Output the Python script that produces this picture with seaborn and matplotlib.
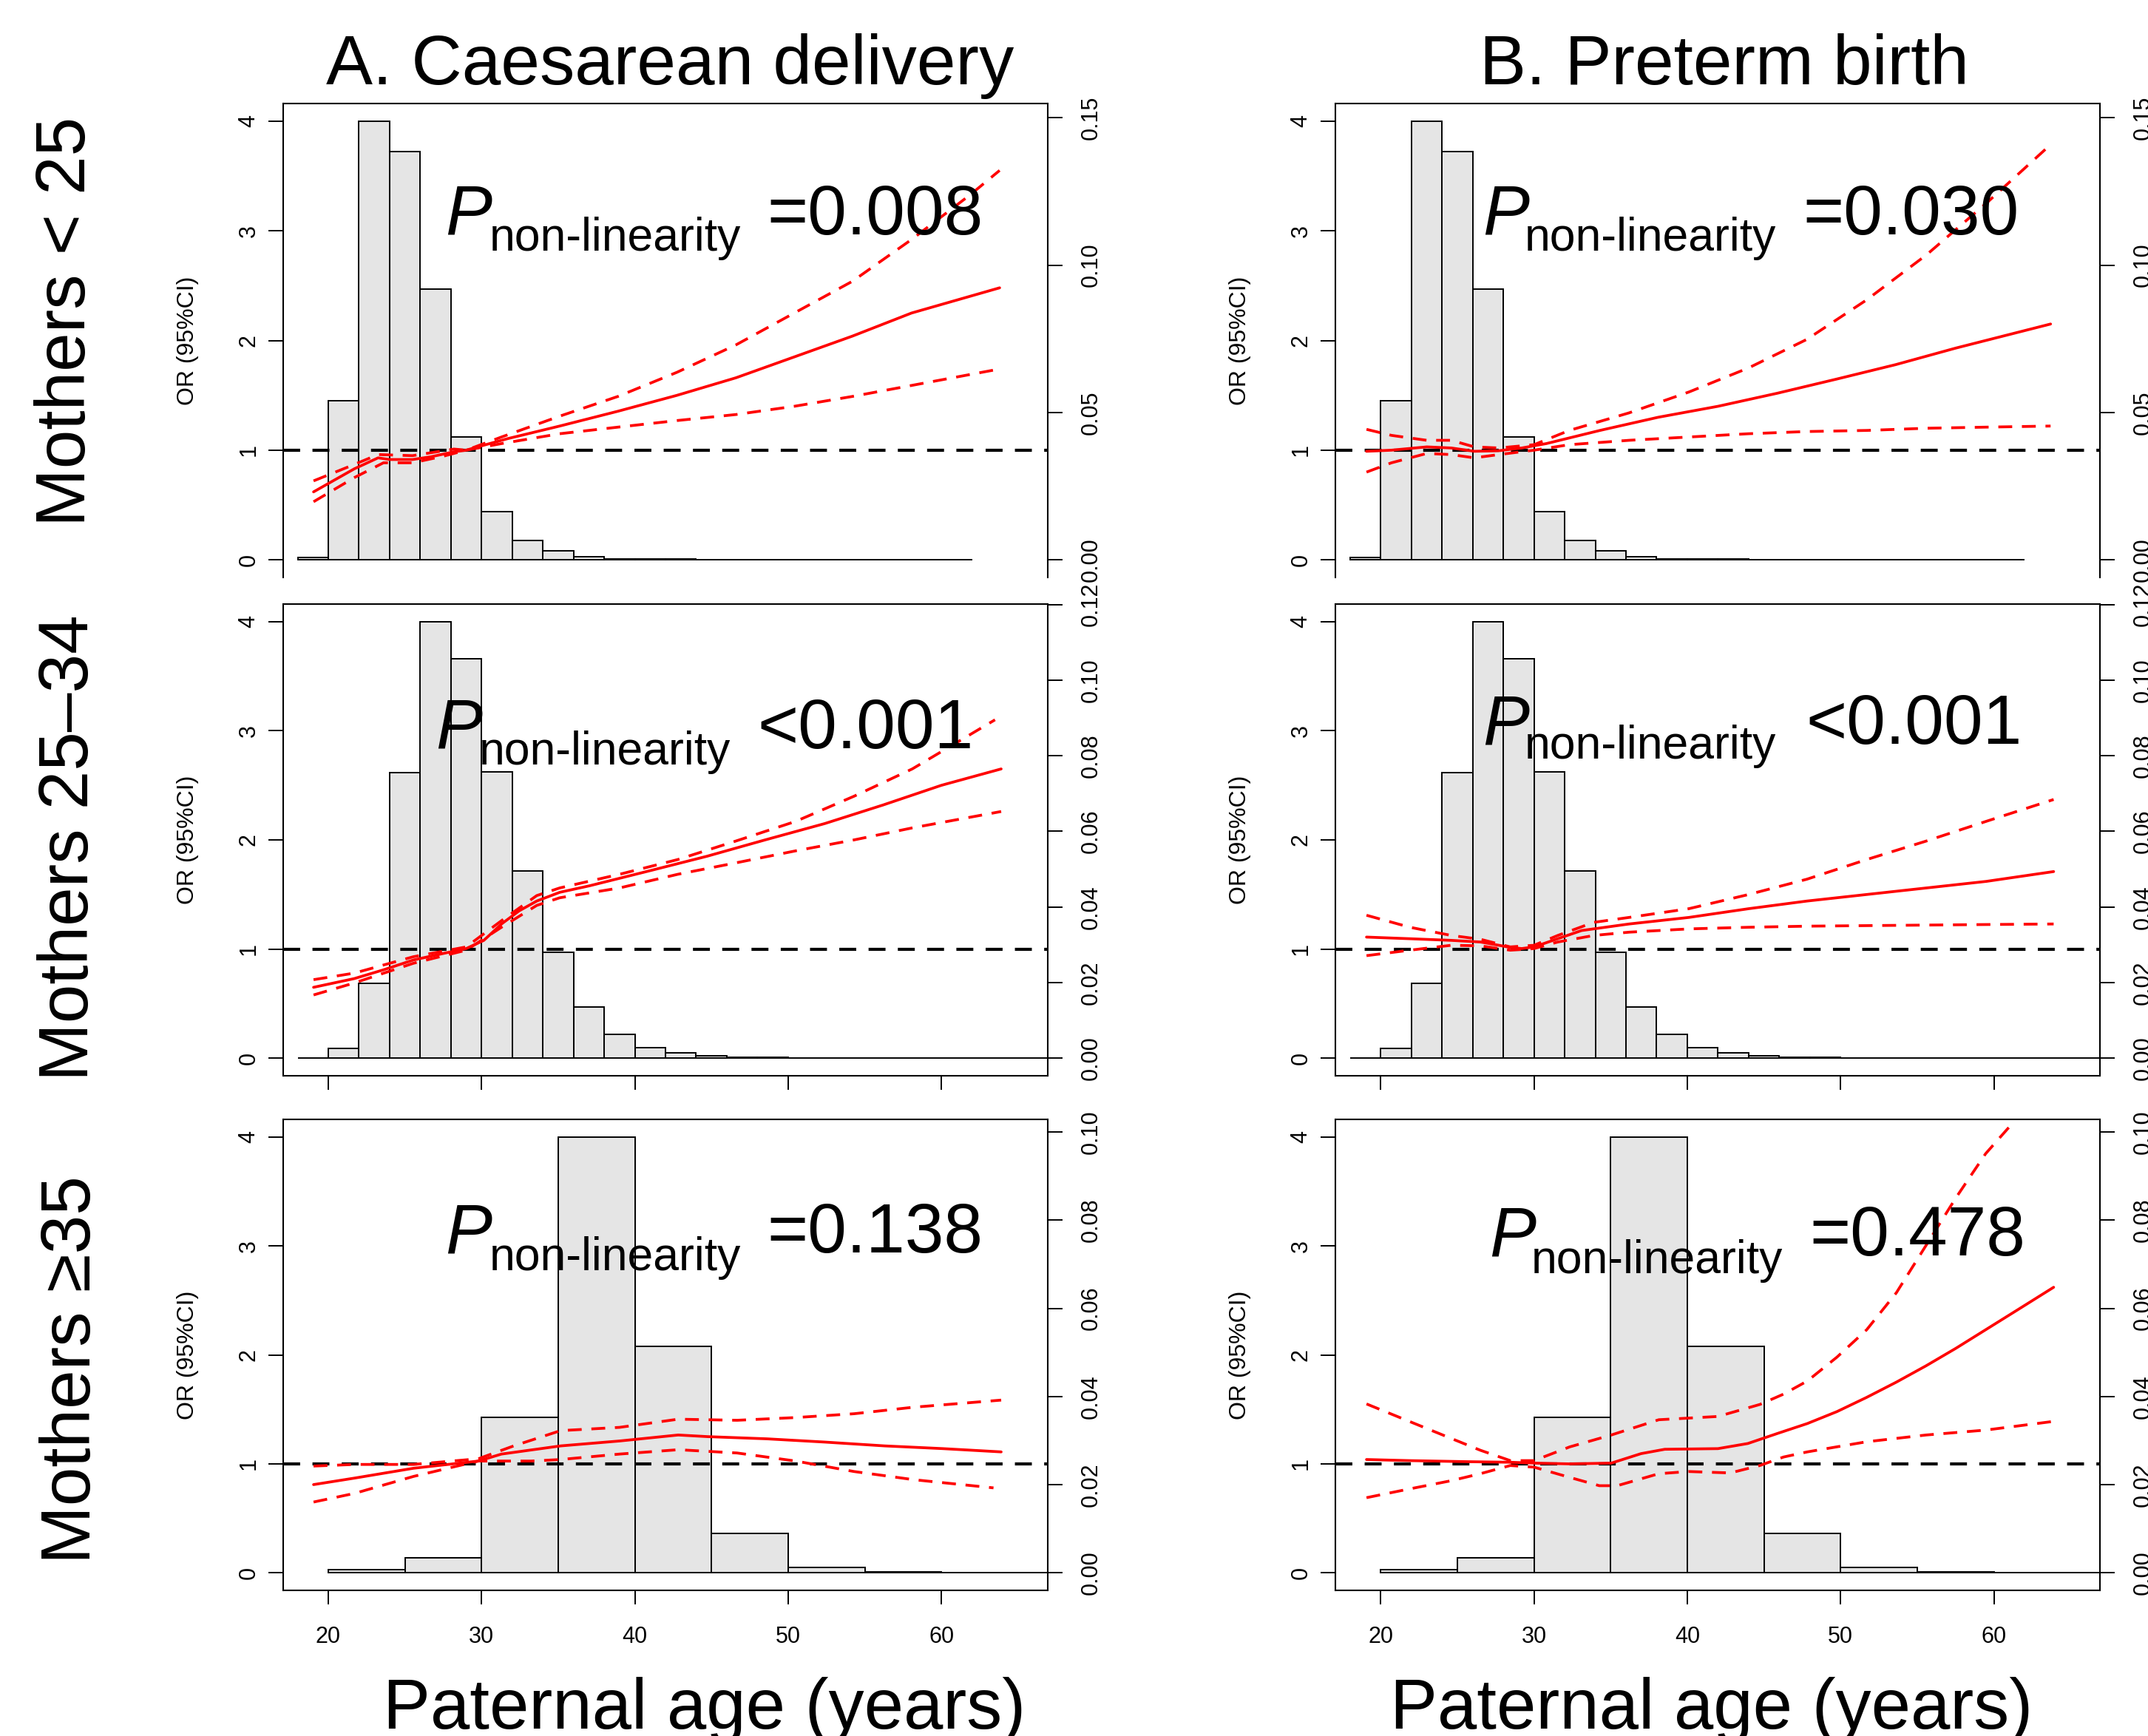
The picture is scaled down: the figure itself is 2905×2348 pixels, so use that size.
import numpy as np
import matplotlib
matplotlib.use("Agg")
import matplotlib.pyplot as plt
import matplotlib.transforms as mtransforms
import seaborn as sns

# ------------------------------------------------------------------ text
titles = ["A. Caesarean delivery", "B. Preterm birth"]
row_labels = ["Mothers < 25", "Mothers 25\u201334", "Mothers \u226535"]
x_label = "Paternal age (years)"
y_label = "OR (95%CI)"
p_main = "P"
p_sub = "non-linearity"
p_values = [["=0.008", "=0.030"], ["<0.001", "<0.001"], ["=0.138", "=0.478"]]
age_ticks = [20, 30, 40, 50, 60]
or_ticks = [0, 1, 2, 3, 4]
ref_or = 1.0

# ------------------------------------------------- paternal age histograms
hist_edges_lt25 = [18, 20, 22, 24, 26, 28, 30, 32, 34, 36, 38, 40, 42, 44, 46,
                   48, 50, 52, 54, 56, 58, 60, 62]
hist_dens_lt25 = [0.0007, 0.0540, 0.1489, 0.1385, 0.0919, 0.0417, 0.0164,
                  0.0067, 0.0030, 0.0011, 0.0004, 0.0003, 0.0002, 0.0001,
                  0, 0, 0, 0, 0, 0, 0, 0]
dens_ticks_lt25 = [0.00, 0.05, 0.10, 0.15]

hist_edges_2534 = [18, 20, 22, 24, 26, 28, 30, 32, 34, 36, 38, 40, 42, 44, 46,
                   48, 50, 52, 54, 56, 58, 60, 62, 64, 66, 68]
hist_dens_2534 = [0, 0.0026, 0.0199, 0.0756, 0.1155, 0.1056, 0.0758, 0.0496,
                  0.0280, 0.0136, 0.0063, 0.0029, 0.0014, 0.0007, 0.0003,
                  0.0003, 0, 0, 0, 0, 0, 0, 0, 0, 0]
dens_ticks_2534 = [0.00, 0.02, 0.04, 0.06, 0.08, 0.10, 0.12]

hist_edges_ge35 = [20, 25, 30, 35, 40, 45, 50, 55, 60, 65, 70]
hist_dens_ge35 = [0.0007, 0.0035, 0.0353, 0.0989, 0.0514, 0.0089, 0.0012,
                  0.0002, 0, 0]
dens_ticks_ge35 = [0.00, 0.02, 0.04, 0.06, 0.08, 0.10]

# ------------------------------------------- spline ORs, Caesarean delivery
ces_lt25_fit_x = [19.04, 19.8, 21.7, 23.25, 24.0, 25.5, 26.7, 28.2, 29.0, 29.75,
                  31.7, 35.1, 38.9, 42.75, 46.6, 50.4, 54.2, 58.05, 63.8]
ces_lt25_fit_y = [0.62, 0.68, 0.83, 0.93, 0.915, 0.915, 0.94, 0.985, 1.0, 1.03,
                  1.105, 1.22, 1.355, 1.50, 1.66, 1.85, 2.04, 2.25, 2.48]
ces_lt25_up_x = [19.04, 21.7, 23.25, 25.5, 28.2, 29.0, 31.3, 35.1, 38.9, 42.75,
                 46.6, 50.4, 54.2, 58.05, 61.9, 63.8]
ces_lt25_up_y = [0.72, 0.87, 0.96, 0.95, 1.01, 1.0, 1.12, 1.31, 1.49, 1.71,
                 1.96, 2.25, 2.54, 2.92, 3.33, 3.55]
ces_lt25_lo_x = [19.04, 21.7, 23.6, 25.5, 27.5, 29.0, 31.3, 35.1, 38.9, 42.75,
                 46.6, 50.4, 54.2, 58.05, 63.8]
ces_lt25_lo_y = [0.53, 0.75, 0.885, 0.885, 0.945, 1.0, 1.06, 1.15, 1.21, 1.27,
                 1.325, 1.40, 1.49, 1.59, 1.74]

ces_2534_fit_x = [19.04, 21.7, 23.6, 25.55, 27.5, 29.0, 30.15, 31.3, 32.45, 33.6,
                  35.1, 37.05, 40.9, 44.7, 48.5, 52.4, 56.2, 60.0, 63.9]
ces_2534_fit_y = [0.65, 0.73, 0.81, 0.90, 0.96, 1.005, 1.08, 1.23, 1.35, 1.44,
                  1.52, 1.58, 1.715, 1.85, 2.0, 2.15, 2.32, 2.50, 2.65]
ces_2534_up_x = [19.04, 21.7, 25.55, 29.0, 31.3, 33.6, 35.1, 39.0, 42.8, 46.6,
                 50.5, 54.3, 58.1, 63.5]
ces_2534_up_y = [0.72, 0.78, 0.93, 1.02, 1.26, 1.49, 1.56, 1.685, 1.82, 1.99,
                 2.17, 2.40, 2.65, 3.10]
ces_2534_lo_x = [19.04, 21.7, 25.55, 29.0, 31.3, 33.6, 35.1, 39.0, 42.8, 46.6,
                 50.5, 54.3, 58.1, 63.9]
ces_2534_lo_y = [0.58, 0.69, 0.87, 0.99, 1.20, 1.40, 1.47, 1.56, 1.685, 1.79,
                 1.90, 2.0, 2.11, 2.26]

ces_ge35_fit_x = [19.04, 21.73, 25.56, 29.79, 31.3, 35.16, 39.0, 42.83, 44.75,
                  48.6, 52.4, 56.3, 60.1, 63.9]
ces_ge35_fit_y = [0.81, 0.87, 0.96, 1.026, 1.09, 1.165, 1.21, 1.265, 1.25,
                  1.23, 1.20, 1.165, 1.14, 1.11]
ces_ge35_up_x = [19.04, 21.73, 25.56, 29.79, 32.1, 35.16, 39.0, 42.83, 46.67,
                 50.5, 54.3, 58.2, 63.9]
ces_ge35_up_y = [0.98, 0.995, 0.995, 1.047, 1.165, 1.305, 1.335, 1.41, 1.40,
                 1.425, 1.46, 1.52, 1.585]
ces_ge35_lo_x = [19.04, 21.73, 25.56, 29.79, 33.24, 35.16, 39.0, 42.83, 46.67,
                 50.5, 54.3, 58.2, 63.4]
ces_ge35_lo_y = [0.65, 0.73, 0.885, 1.026, 1.026, 1.04, 1.09, 1.13, 1.10,
                 1.026, 0.93, 0.855, 0.78]

# ------------------------------------------------ spline ORs, Preterm birth
pre_lt25_fit_x = [19.07, 20.7, 23.0, 24.6, 26.1, 27.7, 29.2, 30.8, 34.3, 38.1,
                  42.0, 45.9, 49.8, 53.6, 57.5, 63.7]
pre_lt25_fit_y = [0.99, 1.0, 1.03, 1.02, 0.99, 0.995, 1.02, 1.06, 1.18, 1.30,
                  1.40, 1.52, 1.65, 1.78, 1.93, 2.15]
pre_lt25_up_x = [19.07, 20.7, 23.0, 24.6, 26.1, 27.7, 30.0, 32.3, 36.2, 40.1,
                 44.0, 47.8, 51.7, 55.6, 59.5, 63.5]
pre_lt25_up_y = [1.19, 1.135, 1.09, 1.09, 1.03, 1.02, 1.05, 1.18, 1.34, 1.53,
                 1.75, 2.01, 2.37, 2.78, 3.25, 3.76]
pre_lt25_lo_x = [19.07, 20.7, 23.0, 24.6, 26.1, 27.7, 30.0, 32.3, 36.2, 40.1,
                 44.0, 47.8, 51.7, 55.6, 59.5, 63.7]
pre_lt25_lo_y = [0.80, 0.885, 0.97, 0.96, 0.93, 0.96, 1.0, 1.05, 1.09, 1.12,
                 1.15, 1.17, 1.18, 1.20, 1.21, 1.22]

pre_2534_fit_x = [19.07, 21.9, 24.6, 26.5, 27.7, 28.45, 29.2, 30.0, 31.55, 33.1,
                  36.2, 40.1, 44.0, 47.8, 51.7, 55.6, 59.5, 63.9]
pre_2534_fit_y = [1.11, 1.095, 1.08, 1.065, 1.035, 1.015, 1.005, 1.02, 1.095,
                  1.17, 1.23, 1.29, 1.37, 1.44, 1.50, 1.56, 1.62, 1.71]
pre_2534_up_x = [19.07, 21.9, 24.6, 26.5, 28.45, 30.0, 31.55, 33.9, 36.2, 40.1,
                 44.0, 47.8, 51.7, 55.6, 59.5, 63.9]
pre_2534_up_y = [1.31, 1.20, 1.125, 1.09, 1.02, 1.035, 1.125, 1.245, 1.29, 1.37,
                 1.50, 1.64, 1.82, 1.99, 2.17, 2.37]
pre_2534_lo_x = [19.07, 21.9, 24.6, 26.5, 28.45, 30.0, 31.55, 33.9, 36.2, 40.1,
                 44.0, 47.8, 51.7, 55.6, 59.5, 63.9]
pre_2534_lo_y = [0.94, 0.99, 1.035, 1.03, 0.99, 1.005, 1.065, 1.125, 1.155,
                 1.185, 1.20, 1.21, 1.215, 1.22, 1.225, 1.23]

pre_ge35_fit_x = [19.07, 21.86, 25.74, 28.45, 30.0, 32.33, 35.04, 36.98, 38.53,
                  42.0, 43.95, 45.9, 47.83, 49.77, 51.7, 53.64, 55.58, 57.52,
                  59.46, 61.4, 63.9]
pre_ge35_fit_y = [1.04, 1.03, 1.02, 1.015, 1.007, 1.0, 1.007, 1.094, 1.134,
                  1.14, 1.187, 1.28, 1.37, 1.48, 1.61, 1.75, 1.90, 2.06,
                  2.23, 2.40, 2.62]
pre_ge35_up_x = [19.07, 21.86, 24.57, 26.5, 28.45, 30.0, 32.33, 35.04, 38.14,
                 40.08, 42.0, 44.73, 46.28, 47.83, 49.77, 51.7, 53.64, 55.58,
                 57.52, 59.46, 61.0, 61.8]
pre_ge35_up_y = [1.55, 1.39, 1.235, 1.125, 1.03, 1.03, 1.156, 1.265, 1.405,
                 1.42, 1.435, 1.545, 1.64, 1.76, 1.98, 2.23, 2.57, 3.005,
                 3.44, 3.845, 4.09, 4.35]
pre_ge35_lo_x = [19.07, 21.86, 24.57, 26.5, 28.45, 30.0, 32.33, 34.26, 35.43,
                 38.14, 40.08, 42.8, 44.73, 46.28, 47.83, 51.7, 55.58, 59.46,
                 63.9]
pre_ge35_lo_y = [0.69, 0.77, 0.845, 0.91, 0.985, 0.97, 0.876, 0.80, 0.80,
                 0.91, 0.93, 0.917, 0.985, 1.063, 1.11, 1.203, 1.265, 1.31,
                 1.39]

# ------------------------------------------------------------ assemble
hists = [(hist_edges_lt25, hist_dens_lt25, dens_ticks_lt25),
         (hist_edges_2534, hist_dens_2534, dens_ticks_2534),
         (hist_edges_ge35, hist_dens_ge35, dens_ticks_ge35)]
curves = [
    [((ces_lt25_fit_x, ces_lt25_fit_y), (ces_lt25_up_x, ces_lt25_up_y), (ces_lt25_lo_x, ces_lt25_lo_y)),
     ((pre_lt25_fit_x, pre_lt25_fit_y), (pre_lt25_up_x, pre_lt25_up_y), (pre_lt25_lo_x, pre_lt25_lo_y))],
    [((ces_2534_fit_x, ces_2534_fit_y), (ces_2534_up_x, ces_2534_up_y), (ces_2534_lo_x, ces_2534_lo_y)),
     ((pre_2534_fit_x, pre_2534_fit_y), (pre_2534_up_x, pre_2534_up_y), (pre_2534_lo_x, pre_2534_lo_y))],
    [((ces_ge35_fit_x, ces_ge35_fit_y), (ces_ge35_up_x, ces_ge35_up_y), (ces_ge35_lo_x, ces_ge35_lo_y)),
     ((pre_ge35_fit_x, pre_ge35_fit_y), (pre_ge35_up_x, pre_ge35_up_y), (pre_ge35_lo_x, pre_ge35_lo_y))],
]

# ------------------------------------------------------------ layout
W, H, DPI = 2905, 2348, 100
col_left = [382.6, 1806.0]
box_w = 1034.0
row_tb = [(140.0, 781.0), (817.0, 1455.0), (1514.0, 2151.0)]
XLIM = (17.04, 66.92)
YLIM = (-0.16, 4.16)
# P-annotation positions: (x_frac P, x_frac sub, x_frac value, y P, y sub)
p_pos = [[(0.2122, 0.2696, 0.6334, 2.97, 2.82), (0.1921, 0.2476, 0.6112, 2.97, 2.82)],
         [(0.1996, 0.2567, 0.6208, 2.84, 2.69), (0.1921, 0.2476, 0.6151, 2.88, 2.745)],
         [(0.2122, 0.2696, 0.6334, 2.937, 2.775), (0.2012, 0.2563, 0.6204, 2.91, 2.75)]]

sns.set_theme(style="white")
plt.rcParams["font.family"] = ["Liberation Sans", "DejaVu Sans"]
plt.rcParams["axes.edgecolor"] = "black"
plt.rcParams["xtick.color"] = "black"
plt.rcParams["ytick.color"] = "black"
plt.rcParams["text.color"] = "black"

fig = plt.figure(figsize=(W / DPI, H / DPI), dpi=DPI)
fig.patch.set_facecolor("white")

SPINE_LW = 1.5
TICK_LEN = 14.5
RED_LW = 2.7
TICK_FS = 22

for r in range(3):
    top, bot = row_tb[r]
    edges, dens, dticks = hists[r]
    centers = [(a + b) / 2.0 for a, b in zip(edges[:-1], edges[1:])]
    for c in range(2):
        ax = fig.add_axes([col_left[c] / W, 1 - bot / H, box_w / W, (bot - top) / H])
        ax2 = ax.twinx()
        ax.set_zorder(ax2.get_zorder() + 1)
        ax.patch.set_visible(False)

        # histogram of paternal age (right axis, density)
        sns.histplot(x=centers, weights=dens, bins=edges, stat="count", ax=ax2,
                     color="#e5e5e5", edgecolor="black", linewidth=1.4,
                     alpha=1.0, legend=False)
        dmax = max(dens)
        ax2.set_ylim(YLIM[0] * dmax / 4.0, YLIM[1] * dmax / 4.0)
        ax2.set_yticks(dticks)
        ax2.set_yticklabels([f"{t:.2f}" for t in dticks])
        ax2.set_ylabel("")
        ax2.tick_params(axis="y", right=True, direction="out", length=TICK_LEN,
                        width=1.4, labelsize=TICK_FS, pad=17, labelrotation=90)
        for t in ax2.get_yticklabels():
            t.set_va("center")
        for s in ax2.spines.values():
            s.set_visible(False)

        # reference line and spline curves
        ax.axhline(ref_or, color="black", lw=3.0, ls=(0, (5.5, 4)), zorder=2)
        fit, up, lo = curves[r][c]
        sns.lineplot(x=up[0], y=up[1], ax=ax, color="red", lw=RED_LW,
                     linestyle=(0, (5, 3.5)), estimator=None, sort=False)
        sns.lineplot(x=lo[0], y=lo[1], ax=ax, color="red", lw=RED_LW,
                     linestyle=(0, (5, 3.5)), estimator=None, sort=False)
        sns.lineplot(x=fit[0], y=fit[1], ax=ax, color="red", lw=RED_LW,
                     estimator=None, sort=False)

        ax.set_xlim(*XLIM)
        ax.set_ylim(*YLIM)
        ax.set_yticks(or_ticks)
        ax.set_yticklabels([str(t) for t in or_ticks])
        ax.set_xticks(age_ticks)
        ax.set_xticklabels([str(t) for t in age_ticks])
        ax.set_xlabel("")
        ax.set_ylabel("")
        ax.tick_params(axis="y", left=True, right=False, direction="out",
                       length=TICK_LEN, width=1.4, labelsize=TICK_FS, pad=8,
                       labelrotation=90)
        for t in ax.get_yticklabels():
            t.set_va("center")
        if r == 0:
            ax.tick_params(axis="x", bottom=False, labelbottom=False)
        else:
            ax.tick_params(axis="x", bottom=True, direction="out",
                           length=13.7, width=1.4, labelsize=TICK_FS, pad=21,
                           labelbottom=(r == 2))
        for name, s in ax.spines.items():
            s.set_linewidth(SPINE_LW)
            s.set_color("black")
        if r == 0:
            ax.spines["bottom"].set_visible(False)

        ax.text(-0.1248, 0.5, y_label, transform=ax.transAxes, rotation=90,
                ha="center", va="center", fontsize=23)

        # P annotation
        tr = mtransforms.blended_transform_factory(ax.transAxes, ax.transData)
        xp, xs, xv, yp, ys = p_pos[r][c]
        ax.text(xp, yp, p_main, transform=tr, fontsize=68, fontstyle="italic",
                ha="left", va="baseline", zorder=5)
        ax.text(xs, ys, p_sub, transform=tr, fontsize=45, ha="left",
                va="baseline", zorder=5)
        ax.text(xv, yp, p_values[r][c], transform=tr, fontsize=68, ha="left",
                va="baseline", zorder=5)

# column titles
fig.text(906.6 / W, 1 - 114 / H, titles[0], ha="center", va="baseline", fontsize=68)
fig.text(2332.0 / W, 1 - 114 / H, titles[1], ha="center", va="baseline", fontsize=68)

# row labels
row_lab_pos = [(114.9, 435.0), (118.6, 1147.0), (122.0, 1853.0)]
for lab, (bx, cy) in zip(row_labels, row_lab_pos):
    fig.text(bx / W, 1 - cy / H, lab, rotation=90, rotation_mode="anchor",
             ha="center", va="baseline", fontsize=68)

# x-axis labels
fig.text(953.0 / W, 1 - 2338.0 / H, x_label, ha="center", va="baseline", fontsize=69)
fig.text(2315.0 / W, 1 - 2338.0 / H, x_label, ha="center", va="baseline", fontsize=69)

fig.savefig("out.png", dpi=DPI, facecolor="white")
